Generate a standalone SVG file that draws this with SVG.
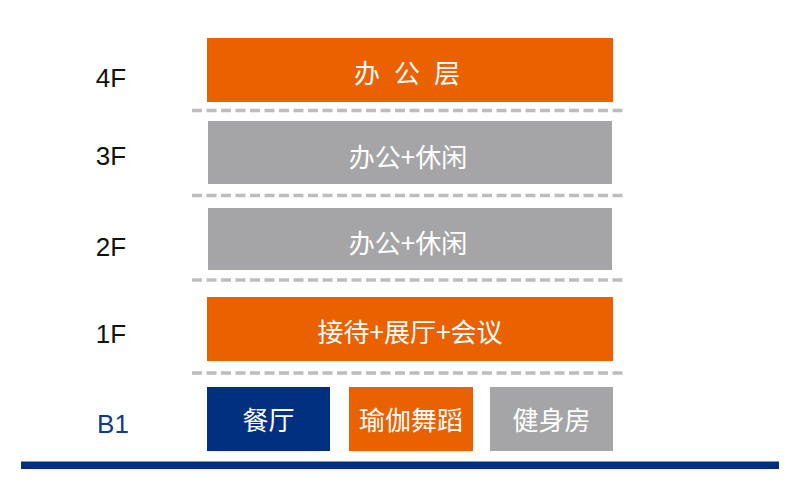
<svg xmlns="http://www.w3.org/2000/svg" width="800" height="501" viewBox="0 0 800 501">
<style>
.lbl{font-family:"Liberation Sans",Arial,sans-serif;font-size:26px;fill:#111111;text-anchor:middle}
.b1{fill:#0F3A8A}
.cn{font-family:"Noto Sans CJK SC","Noto Sans",sans-serif;font-size:26px;fill:#FFFFFF;text-anchor:middle;dominant-baseline:central}
.org{fill:#EA6100}
.gry{fill:#A5A5A7}
.nvy{fill:#00307F}
.dash{stroke:#BDBDBD;stroke-width:3.5;stroke-dasharray:10 4.5;fill:none}
</style>
<rect width="800" height="501" fill="#FFFFFF"/>
<g id="labels">
<text class="lbl" x="111" y="87">4F</text>
<text class="lbl" x="111" y="165">3F</text>
<text class="lbl" x="111" y="256">2F</text>
<text class="lbl" x="111" y="343">1F</text>
<text class="lbl b1" x="113" y="433">B1</text>
</g>
<g id="separators">
<line class="dash" x1="192" y1="110.5" x2="626" y2="110.5"/>
<line class="dash" x1="192" y1="195.5" x2="626" y2="195.5"/>
<line class="dash" x1="192" y1="280" x2="626" y2="280"/>
<line class="dash" x1="192" y1="373" x2="626" y2="373"/>
</g>
<g id="floor-4F">
<rect class="org" x="207" y="38" width="406" height="64"/>
<text class="cn"><tspan x="367" y="71">办</tspan><tspan x="407" y="71">公</tspan><tspan x="447" y="71">层</tspan></text>
</g>
<g id="floor-3F">
<rect class="gry" x="208" y="121" width="404" height="63"/>
<text class="cn" x="408" y="155">办公+休闲</text>
</g>
<g id="floor-2F">
<rect class="gry" x="208" y="208" width="404" height="62"/>
<text class="cn" x="408" y="241">办公+休闲</text>
</g>
<g id="floor-1F">
<rect class="org" x="207" y="297" width="406" height="64"/>
<text class="cn" x="410" y="330">接待+展厅+会议</text>
</g>
<g id="b1-canting">
<rect class="nvy" x="207" y="387" width="123" height="64"/>
<text class="cn" x="268.5" y="418.5">餐厅</text>
</g>
<g id="b1-yoga">
<rect class="org" x="349" y="387" width="124" height="64"/>
<text class="cn" x="411" y="418.5">瑜伽舞蹈</text>
</g>
<g id="b1-gym">
<rect class="gry" x="490" y="387" width="123" height="64"/>
<text class="cn" x="551.5" y="418.5">健身房</text>
</g>
<g id="ground">
<rect class="nvy" x="21" y="461.5" width="758" height="7.5"/>
</g>
</svg>
